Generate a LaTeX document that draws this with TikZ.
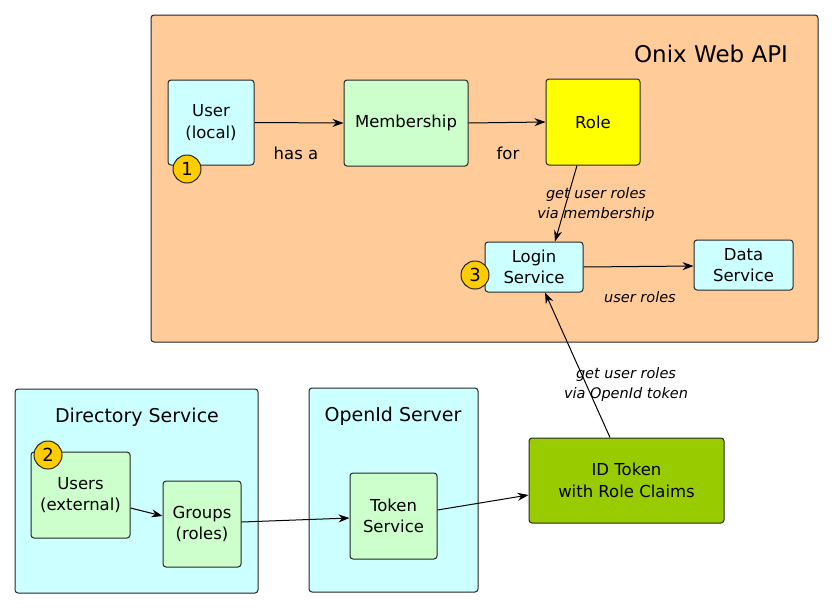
\documentclass[tikz,border=0pt]{standalone}
\usepackage{fontspec}
\setmainfont{DejaVu Sans}
\usetikzlibrary{arrows.meta}
\definecolor{peach}{HTML}{FFCC99}
\definecolor{cyanc}{HTML}{CCFFFF}
\definecolor{greenc}{HTML}{CCFFCC}
\definecolor{yellowc}{HTML}{FFFF00}
\definecolor{olivec}{HTML}{99CC00}
\definecolor{badgec}{HTML}{FFCC00}
\begin{document}
\begin{tikzpicture}[x=1pt,y=-1pt,
  box/.style={draw=black!85, line width=1pt, rounded corners=3pt, inner sep=0pt, align=center,
    font=\fontsize{16.5}{21.5}\selectfont},
  frame/.style={draw=black!85, line width=1pt, rounded corners=3pt, inner sep=0pt},
  title/.style={font=\fontsize{19}{23}\selectfont, inner sep=0pt},
  lbl/.style={font=\fontsize{16.5}{21}\selectfont, inner sep=0pt},
  ilbl/.style={font=\fontsize{14.5}{20}\selectfont\itshape, inner sep=0pt, align=center},
  badge/.style={circle, draw=black!85, line width=1pt, fill=badgec, minimum size=28pt, inner sep=0pt,
    font=\fontsize{18}{20}\selectfont},
  arr/.style={draw=black, line width=1pt, -{Stealth[length=11pt,width=8pt]}}
]
\useasboundingbox (0,0) rectangle (834,608);

% Onix Web API frame
\node[frame, fill=peach, minimum width=667pt, minimum height=327pt] (api) at (484.5,178.5) {};
\node[title, font=\fontsize{23}{27}\selectfont] (apititle) at (711,54) {Onix Web API};

\node[box, fill=cyanc, minimum width=86pt, minimum height=85pt] (user) at (211,122.5) {User\\(local)};
\node[box, fill=greenc, minimum width=124pt, minimum height=86pt] (memb) at (406,123) {Membership};
\node[box, fill=yellowc, minimum width=94pt, minimum height=86pt] (role) at (593,122) {Role};
\node[box, fill=cyanc, minimum width=98pt, minimum height=50pt] (login) at (534,267) {Login\\Service};
\node[box, fill=cyanc, minimum width=99pt, minimum height=50pt] (data) at (743.5,265) {Data\\Service};

\node[badge] (b1) at (187,169) {1};
\node[badge] (b3) at (475,275) {3};

\node[lbl] (hasa) at (296,153) {has a};
\node[lbl] (for) at (508,153) {for};

% Directory Service
\node[frame, fill=cyanc, minimum width=243pt, minimum height=204pt] (dir) at (136.5,491) {};
\node[title] (dirtitle) at (137,417) {Directory Service};
\node[box, fill=greenc, minimum width=99pt, minimum height=86pt] (users) at (80.5,495) {Users\\(external)};
\node[box, fill=greenc, minimum width=78pt, minimum height=86pt] (groups) at (202,524) {Groups\\(roles)};
\node[badge] (b2) at (48,455) {2};

% OpenId Server
\node[frame, fill=cyanc, minimum width=169pt, minimum height=204pt] (openid) at (393.5,490) {};
\node[title] (oidtitle) at (393,416) {OpenId Server};
\node[box, fill=greenc, minimum width=87pt, minimum height=86pt] (token) at (393.5,516) {Token\\Service};

% ID token
\node[box, fill=olivec, minimum width=195pt, minimum height=85pt] (idtok) at (626.5,480.5) {ID Token\\with Role Claims};

% connectors
\draw[arr] (user.east) -- (memb.west);
\draw[arr] (memb.east) -- (role.west);
\draw[arr] ([xshift=-16pt]role.south) -- ([xshift=21pt]login.north);
\draw[arr] (login.east) -- ([yshift=-1pt]data.west);
\draw[arr] ([xshift=-16.5pt]idtok.north) -- ([xshift=11pt]login.south);
\draw[arr] ([yshift=-13pt]users.east) -- ([yshift=8pt]groups.west);
\draw[arr] ([yshift=2pt]groups.east) -- ([yshift=-2pt]token.west);
\draw[arr] ([yshift=6pt]token.east) -- ([yshift=-14.5pt]idtok.west);

\node[ilbl] (l1) at (596,204) {get user roles\\via membership};
\node[ilbl] (l2) at (640,297) {user roles};
\node[ilbl] (l3) at (626,384) {get user roles\\via OpenId token};
\end{tikzpicture}
\end{document}
